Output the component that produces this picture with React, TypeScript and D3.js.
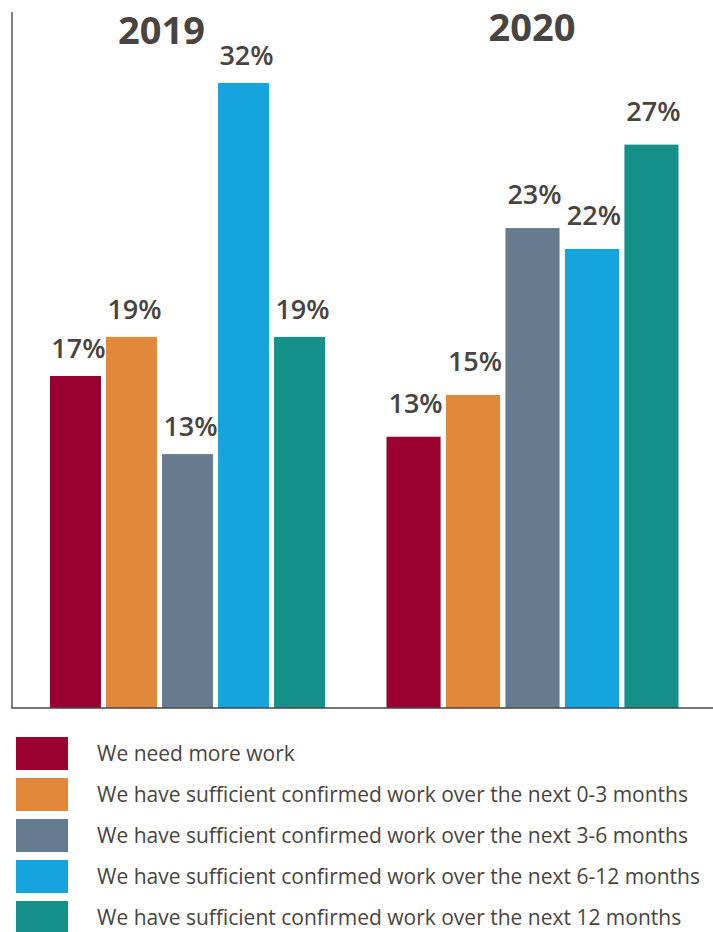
import React from "react";
import * as d3 from "d3";

const years = ["2019", "2020"];
const seriesNames = [
  "We need more work",
  "We have sufficient confirmed work over the next 0-3 months",
  "We have sufficient confirmed work over the next 3-6 months",
  "We have sufficient confirmed work over the next 6-12 months",
  "We have sufficient confirmed work over the next 12 months",
];
const needMoreWork = [17, 13];
const work0to3 = [19, 15];
const work3to6 = [13, 23];
const work6to12 = [32, 22];
const work12plus = [19, 27];
const seriesValues = [needMoreWork, work0to3, work3to6, work6to12, work12plus];
const colors = ["#990030", "#e2883a", "#667b90", "#16a4dd", "#16918a"];

const W = 713;
const H = 932;
const baseY = 708;
const textColor = "#4a4441";
const font = "'Open Sans', sans-serif";

// each year was drawn as its own panel with its own vertical scale
const panels = [
  { x0: 50, x1: 325, yMax: 36.25, gap: 18, dx: 3, titleX: 161.5, titleY: 44 },
  { x0: 386.5, x1: 678.5, yMax: 33.93, gap: 24, dx: 2, titleX: 532, titleY: 41 },
];

export default function App() {
  const legendY = d3.scaleBand<number>().domain(d3.range(5)).range([737, 934]).paddingInner(8 / 41).paddingOuter(0);
  return (
    <svg width={W} height={H} style={{ position: "absolute", left: 0, top: 0, background: "#fff" }}>
      <rect width={W} height={H} fill="#fff" />
      {years.map((yr, yi) => {
        const p = panels[yi];
        const x = d3.scaleBand<number>().domain(d3.range(5)).range([p.x0, p.x1]).paddingInner(5.2 / 57.5).paddingOuter(0);
        const y = d3.scaleLinear().domain([0, p.yMax]).range([baseY, 0]);
        return (
          <g key={yr}>
            <text x={p.titleX} y={p.titleY} textAnchor="middle" fontFamily={font} fontWeight={700} fontSize={38} fill={textColor}>
              {yr}
            </text>
            {seriesValues.map((vals, si) => {
              const v = vals[yi];
              return (
                <g key={si}>
                  <rect x={x(si)} y={y(v)} width={x.bandwidth()} height={baseY - y(v)} fill={colors[si]} />
                  <text
                    x={(x(si) as number) + x.bandwidth() / 2 + p.dx}
                    y={y(v) - p.gap}
                    textAnchor="middle"
                    fontFamily={font}
                    fontWeight={600}
                    fontSize={27}
                    fill={textColor}
                  >
                    {v}%
                  </text>
                </g>
              );
            })}
          </g>
        );
      })}
      <line x1={12} x2={12} y1={12} y2={baseY} stroke="#555" strokeWidth={1.5} />
      <line x1={11.25} x2={W} y1={baseY} y2={baseY} stroke="#444" strokeWidth={1.5} />
      {seriesNames.map((name, i) => (
        <g key={name}>
          <rect x={16} y={legendY(i)} width={52} height={legendY.bandwidth()} fill={colors[i]} />
          <text
            x={97}
            y={(legendY(i) as number) + legendY.bandwidth() / 2}
            dy="0.35em"
            fontFamily={font}
            fontSize={21}
            fill={textColor}
          >
            {name}
          </text>
        </g>
      ))}
    </svg>
  );
}
